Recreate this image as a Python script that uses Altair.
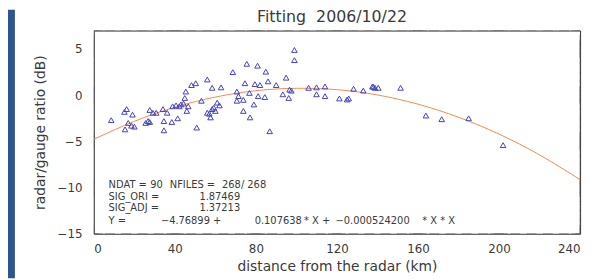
import altair as alt
import pandas as pd

# ---- data ----
dist_km = [8.6, 15.1, 16.2, 19.1, 17.0, 15.4, 18.6, 20.0, 27.6, 29.2, 26.8, 25.6, 27.6, 30.8, 34.1,
           36.2, 34.6, 34.6, 38.5, 41.4, 38.9, 40.6, 42.2, 44.3, 44.9, 45.4, 45.9, 46.6, 48.2, 50.3,
           50.8, 56.0, 58.4, 62.8, 53.1, 56.0, 57.6, 59.2, 60.9, 60.0, 58.4, 68.6, 70.6, 71.4, 70.6,
           73.8, 74.6, 75.5, 76.8, 73.8, 77.1, 79.0, 79.5, 80.8, 82.0, 81.1, 84.9, 84.4, 86.0, 86.8,
           90.0, 93.3, 94.9, 96.6, 96.2, 99.0, 99.0, 106.0, 109.9, 114.1, 109.9, 114.1, 121.2, 125.0,
           125.8, 128.2, 133.0, 137.5, 138.8, 140.4, 151.4, 163.9, 171.7, 185.0, 202.0, 43.0, 62.0,
           97.5, 138.0, 57.0]
ratio_db = [-2.7, -1.8, -1.5, -2.1, -3.0, -3.7, -3.3, -3.4, -1.6, -1.9, -2.8, -3.0, -2.9, -1.9, -1.5,
            -1.9, -2.8, -3.8, -2.9, -2.5, -1.2, -1.1, -1.2, -0.9, -0.3, 0.4, -1.7, -1.2, 1.1, 1.3,
            -3.5, 1.7, 0.8, 0.85, -0.6, -1.9, -2.4, -1.35, -0.8, -1.7, -1.5, 2.5, 0.4, -0.1, -0.6,
            -0.5, 1.3, 3.4, 0.25, -1.7, -2.4, -1.0, 1.2, 3.2, 1.1, -0.1, 2.55, -0.2, 1.5, -3.9,
            1.1, 0.1, 1.9, 0.6, -0.3, 4.9, 3.8, 0.8, 0.85, 0.95, 0.1, -0.1, -0.35, -0.46,
            -0.35, 0.7, 0.5, 0.95, 0.8, 0.8, 0.8, -2.2, -2.6, -2.5, -5.4, -1.0, -1.1,
            0.5, 0.9, -2.0]

fit_x = [0, 20, 40, 60, 80, 100, 120, 140, 160, 180, 200, 220, 240]
fit_y = [-4.77, -2.83, -1.30, -0.20, 0.49, 0.75, 0.60, 0.03, -0.97, -2.38, -4.21, -6.46, -9.13]

x_major = [0, 40, 80, 120, 160, 200, 240]
x_minor = list(range(0, 241, 8))
y_major = [-15, -10, -5, 0, 5]
y_minor = list(range(-15, 7))

title_text = "Fitting\u00a0\u00a02006/10/22"
x_title = "distance from the radar (km)"
y_title = "radar/gauge ratio (dB)"

note_text = ["NDAT =", "90", "NFILES =", "268/ 268",
             "SIG_ORI =", "1.87469",
             "SIG_ADJ =", "1.37213",
             "Y =", "\u22124.76899 +", "0.107638", "* X +", "\u22120.000524200", "* X * X"]
note_x = [7.3, 27.8, 37.5, 63.3,
          7.3, 52.1,
          7.3, 52.1,
          7.3, 33.1, 79.4, 103.7, 119.3, 162.1]
note_y = [-9.7, -9.7, -9.7, -9.7,
          -11.0, -11.0,
          -12.2, -12.2,
          -13.6, -13.6, -13.6, -13.6, -13.6, -13.6]

# ---- layout ----
W, H = 493, 206
FONT = "DejaVu Sans"
TXT = "#3a3a3a"
BLUE = "#2d5592"
TICK = "#555555"

pts = pd.DataFrame({"d": dist_km, "r": ratio_db})
fit = pd.DataFrame({"d": fit_x, "r": fit_y})
notes = pd.DataFrame({"t": note_text, "d": note_x, "r": note_y})
strip = pd.DataFrame({"k": [0]})

xscale = alt.Scale(domain=[0, 240], nice=False, zero=False)
yscale = alt.Scale(domain=[-15, 7], nice=False, zero=False)

x_axis = alt.Axis(values=x_major, title=x_title, labelOverlap=False, grid=False,
                  ticks=False, tickSize=0, domain=False, labelPadding=10, titlePadding=5)
y_axis = alt.Axis(values=y_major, title=y_title, labelOverlap=False, grid=False,
                  ticks=False, tickSize=0, domain=False, labelPadding=12, titlePadding=10)

x_enc = alt.X("d:Q", scale=xscale, axis=x_axis)
y_enc = alt.Y("r:Q", scale=yscale, axis=y_axis)


def x_ticks(vals, length, edge):
    df = pd.DataFrame({"v": vals})
    return alt.Chart(df).mark_tick(orient="horizontal", size=2 * length, thickness=1,
                                   color=TICK, clip=True).encode(
        x=alt.X("v:Q", scale=xscale, axis=x_axis),
        y=alt.Y(datum=edge, type="quantitative", scale=yscale, axis=y_axis))


def y_ticks(vals, length, edge):
    df = pd.DataFrame({"v": vals})
    return alt.Chart(df).mark_tick(orient="vertical", size=2 * length, thickness=1,
                                   color=TICK, clip=True).encode(
        y=alt.Y("v:Q", scale=yscale, axis=y_axis),
        x=alt.X(datum=edge, type="quantitative", scale=xscale, axis=x_axis))


tick_layers = [
    x_ticks(x_minor, 5, -15), x_ticks(x_minor, 5, 7),
    x_ticks(x_major, 9, -15), x_ticks(x_major, 9, 7),
    y_ticks(y_minor, 5, 0), y_ticks(y_minor, 5, 240),
    y_ticks(y_major, 9, 0), y_ticks(y_major, 9, 240),
]

curve = alt.Chart(fit).mark_line(color="#f28a4e", strokeWidth=1, interpolate="natural").encode(
    x=x_enc, y=y_enc)

points = alt.Chart(pts).mark_point(shape="triangle-up", filled=False, size=32,
                                   strokeWidth=1, color="#4040c4", opacity=1).encode(
    x=x_enc, y=y_enc)

text = alt.Chart(notes).mark_text(align="left", baseline="middle", font=FONT,
                                  fontSize=10, color=TXT).encode(
    x=x_enc, y=y_enc, text="t:N")

band = alt.Chart(strip).mark_rect(color=BLUE, clip=False).encode(
    x=alt.value(-87), x2=alt.value(-80), y=alt.value(-21), y2=alt.value(H + 45))

chart = alt.layer(band, *tick_layers, curve, points, text).properties(
    width=W, height=H,
    padding={"left": 87, "top": 21, "right": 7, "bottom": 45},
    autosize=alt.AutoSizeParams(type="none"),
    background="white",
    title=alt.TitleParams(title_text, font=FONT, fontSize=16, fontWeight="normal",
                          color=TXT, frame="group", anchor="middle", offset=-15, dx=-5),
).configure_view(stroke="#333", strokeWidth=1).configure_axis(
    labelFont=FONT, labelFontSize=12, labelColor=TXT,
    titleFont=FONT, titleFontSize=14, titleFontWeight="normal", titleColor=TXT)

chart.save("out.html", embed_options={"renderer": "svg", "actions": False})
